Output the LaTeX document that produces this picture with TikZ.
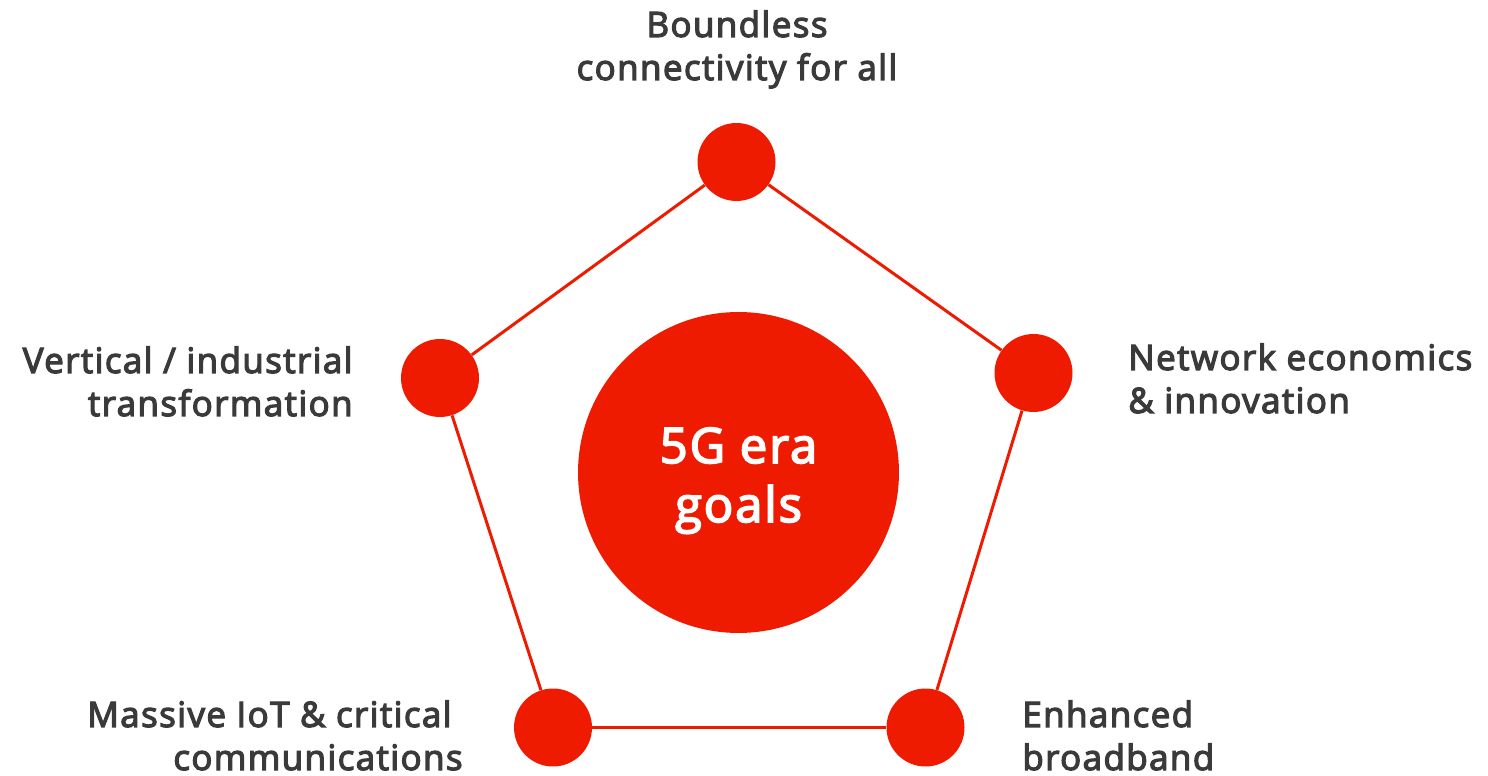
\documentclass[tikz,border=0pt]{standalone}
\usepackage{fontspec}
\setmainfont{Open Sans}[UprightFeatures={FakeBold=3.5},LetterSpace=4]
\definecolor{goalred}{HTML}{EE1B00}
\definecolor{labelgray}{HTML}{3A3A3A}
\begin{document}
\begin{tikzpicture}[x=0.02cm,y=-0.02cm,
  goal/.style={circle,fill=goalred,inner sep=0pt,minimum size=1.56cm},
  hub/.style={circle,fill=goalred,inner sep=0pt,minimum size=6.42cm},
  hubtext/.style={text=white,inner sep=0pt,align=center,font=\fontsize{27.8}{33.6}\selectfont},
  link/.style={draw=goalred,line width=1.7pt},
  caption/.style={text=labelgray,inner sep=0pt,font=\fontsize{19.9}{24.5}\selectfont}]
\useasboundingbox (0,0) rectangle (1488,776);
% centre
\node[hub] (core) at (738.5,472.5) {};
\node[hubtext,anchor=base] (coretext) at (738.5,522) {5G era\\goals};
% the five goals
\node[goal] (top) at (736.5,162) {};
\node[goal] (right) at (1033.5,373) {};
\node[goal] (left) at (440,378) {};
\node[goal] (bl) at (553,727.5) {};
\node[goal] (br) at (925.5,727.5) {};
% pentagon outline
\draw[link] (top) -- (right);
\draw[link] (right) -- (br);
\draw[link] (br) -- (bl);
\draw[link] (bl) -- (left);
\draw[link] (left) -- (top);
% captions (anchored at the baseline of their last line)
\node[caption,align=center,anchor=base] (ttop) at (737,80) {Boundless\\connectivity for all};
\node[caption,align=right,anchor=base east] (tleft) at (353,416) {Vertical / industrial\\transformation};
\node[caption,align=left,anchor=base west] (tright) at (1128,413) {Network economics\\\& innovation};
\node[caption,align=right,anchor=base east] (tbl) at (463,770) {Massive IoT \& critical\hspace*{0.22cm}\\communications};
\node[caption,align=left,anchor=base west] (tbr) at (1022,770) {Enhanced\\broadband};
\end{tikzpicture}
\end{document}
